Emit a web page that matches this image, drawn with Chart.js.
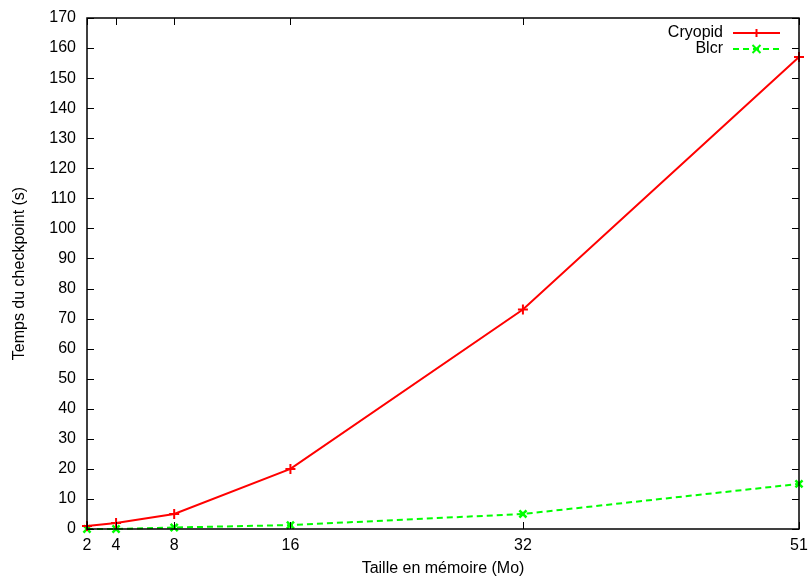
<!DOCTYPE html>
<html>
<head>
<meta charset="utf-8">
<script src="https://cdn.jsdelivr.net/npm/chart.js@4/dist/chart.umd.min.js"></script>
<style>
  html, body { margin: 0; padding: 0; background: #fff; }
  #wrap { width: 809px; height: 581px; }
</style>
</head>
<body>
<div id="wrap"><canvas id="chart"></canvas></div>
<script>
const tailles = [2, 4, 8, 16, 32, 51]
const cryopid = [1, 2, 5, 20, 73, 157]
const blcr = [0, 0, 0.5, 1.3, 5, 15]
const yTicks = [0, 10, 20, 30, 40, 50, 60, 70, 80, 90, 100, 110, 120, 130, 140, 150, 160, 170]

const police = "'Liberation Sans', Arial, sans-serif"

// cadre + graduations vers l'intérieur, façon gnuplot
const cadre = {
    id: "cadre",
    afterDatasetsDraw(chart) {
        const ctx = chart.ctx
        const a = chart.chartArea
        const x = chart.scales.x
        const y = chart.scales.y
        const len = 7
        ctx.save()
        ctx.strokeStyle = "#000"
        ctx.lineWidth = 1
        ctx.beginPath()
        yTicks.forEach(v => {
            const py = Math.round(y.getPixelForValue(v)) + 0.5
            ctx.moveTo(a.left, py); ctx.lineTo(a.left + len, py)
            ctx.moveTo(a.right, py); ctx.lineTo(a.right - len, py)
        })
        tailles.forEach(v => {
            const px = Math.round(x.getPixelForValue(v)) + 0.5
            ctx.moveTo(px, a.bottom); ctx.lineTo(px, a.bottom - len)
            ctx.moveTo(px, a.top); ctx.lineTo(px, a.top + len)
        })
        ctx.stroke()
        ctx.lineWidth = 1.5
        ctx.strokeRect(a.left, a.top, a.right - a.left, a.bottom - a.top)
        ctx.restore()
    },
    afterDraw(chart) {
        // légende : texte à gauche, échantillon à droite
        const ctx = chart.ctx
        const a = chart.chartArea
        ctx.save()
        ctx.font = "16px " + police
        ctx.textAlign = "right"
        ctx.textBaseline = "middle"
        chart.data.datasets.forEach((ds, i) => {
            const yy = a.top + 15 + i * 16
            const xt = a.right - 76
            ctx.fillStyle = "#000"
            ctx.fillText(ds.label, xt, yy)
            const x0 = xt + 10, x1 = a.right - 19
            ctx.strokeStyle = ds.borderColor
            ctx.lineWidth = 2
            ctx.setLineDash(ds.borderDash || [])
            ctx.beginPath()
            ctx.moveTo(x0, yy); ctx.lineTo(x1, yy)
            ctx.stroke()
            ctx.setLineDash([])
            const cx = (x0 + x1) / 2, r = 4
            ctx.beginPath()
            if (ds.pointStyle === "cross") {
                ctx.moveTo(cx - r, yy); ctx.lineTo(cx + r, yy)
                ctx.moveTo(cx, yy - r); ctx.lineTo(cx, yy + r)
            } else {
                ctx.moveTo(cx - r, yy - r); ctx.lineTo(cx + r, yy + r)
                ctx.moveTo(cx - r, yy + r); ctx.lineTo(cx + r, yy - r)
            }
            ctx.stroke()
        })
        ctx.restore()
    }
}

const graphe = new Chart(document.getElementById("chart"), {
    type: "line",
    data: {
        labels: tailles,
        datasets: [{
            label: "Cryopid",
            data: tailles.map((t, i) => ({x: t, y: cryopid[i]})),
            borderColor: "#ff0000",
            backgroundColor: "#ff0000",
            borderWidth: 2,
            pointStyle: "cross",
            pointRadius: 5,
            pointBorderWidth: 2,
            clip: false
        }, {
            label: "Blcr",
            data: tailles.map((t, i) => ({x: t, y: blcr[i]})),
            borderColor: "#00ff00",
            backgroundColor: "#00ff00",
            borderWidth: 2,
            borderDash: [6, 4],
            pointStyle: "crossRot",
            pointRadius: 5,
            pointBorderWidth: 2.5,
            clip: false
        }]
    },
    options: {
        responsive: true,
        maintainAspectRatio: false,
        animation: false,
        layout: {padding: {left: 0, right: 10, top: 18, bottom: 0}},
        plugins: {legend: {display: false}, tooltip: {enabled: false}},
        scales: {
            x: {
                type: "linear",
                min: 2,
                max: 51,
                afterBuildTicks: s => { s.ticks = tailles.map(v => ({value: v})) },
                afterFit: s => { s.height = 52; s.paddingLeft = 0; s.paddingRight = 0 },
                grid: {display: false, drawTicks: false},
                border: {display: false},
                ticks: {
                    color: "#000",
                    font: {family: police, size: 16},
                    padding: 7,
                    maxRotation: 0,
                    autoSkip: false
                },
                title: {
                    display: true,
                    text: "Taille en mémoire (Mo)",
                    color: "#000",
                    font: {family: police, size: 16},
                    padding: {top: 4, bottom: 3}
                }
            },
            y: {
                min: 0,
                max: 170,
                afterBuildTicks: s => { s.ticks = yTicks.map(v => ({value: v})) },
                afterFit: s => { s.width = 87; s.paddingTop = 0; s.paddingBottom = 0 },
                grid: {display: false, drawTicks: false},
                border: {display: false},
                ticks: {
                    color: "#000",
                    font: {family: police, size: 16},
                    padding: 11
                },
                title: {
                    display: true,
                    text: "Temps du checkpoint (s)",
                    color: "#000",
                    font: {family: police, size: 16},
                    padding: {top: 10, bottom: 0}
                }
            }
        }
    },
    plugins: [cadre]
})
</script>
</body>
</html>
